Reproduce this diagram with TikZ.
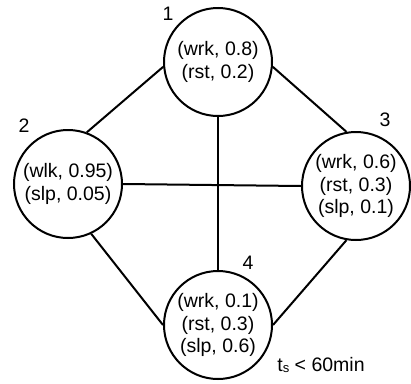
\documentclass[tikz,border=0pt]{standalone}
\usepackage{fontspec}
\setmainfont{Liberation Sans}
\begin{document}
\begin{tikzpicture}[x=1pt,y=-1pt]
  \tikzset{
    state/.style={circle, draw, line width=2pt, minimum size=108pt, inner sep=0pt,
      align=center, font=\fontsize{19.5}{22.5}\selectfont},
    lbl/.style={inner sep=0pt, font=\fontsize{19.5}{22.5}\selectfont},
    link/.style={line width=2pt}
  }
  \useasboundingbox (0,0) rectangle (411,383);
  % states
  \node[state] (n1) at (218,62)  {(wrk, 0.8)\\(rst, 0.2)};
  \node[state] (n2) at (68,184)  {(wlk, 0.95)\\(slp, 0.05)};
  \node[state] (n3) at (356,186) {(wrk, 0.6)\\(rst, 0.3)\\(slp, 0.1)};
  \node[state] (n4) at (218,325) {(wrk, 0.1)\\(rst, 0.3)\\(slp, 0.6)};
  % state numbers
  \node[lbl] (l1) at (168,14)  {1};
  \node[lbl] (l2) at (24,126)  {2};
  \node[lbl] (l3) at (385,120) {3};
  \node[lbl] (l4) at (248,263) {4};
  \node[lbl] (ts) at (321,365) {t\raisebox{-1.5pt}{\fontsize{13}{13}\selectfont s} < 60min};
  % transitions
  \draw[link] (n1.185)   -- (n2.70);
  \draw[link] (n1.-5)    -- (n3.100);
  \draw[link] (n1.south) -- (n4.north);
  \draw[link] (n2.east)  -- (n3.west);
  \draw[link] (n2.-65)   -- (n4.west);
  \draw[link] (n3.-100)  -- (n4.east);
\end{tikzpicture}
\end{document}
